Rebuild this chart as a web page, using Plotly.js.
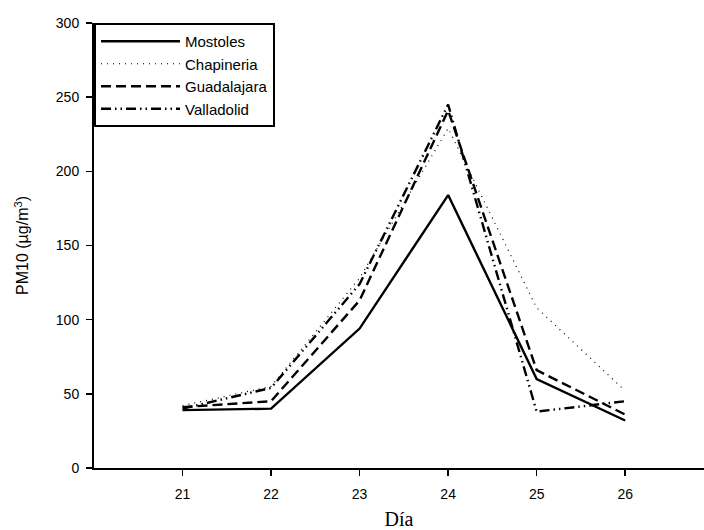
<!DOCTYPE html>
<html>
<head>
<meta charset="utf-8">
<script src="https://cdn.plot.ly/plotly-3.0.1.min.js"></script>
<style>html,body{margin:0;padding:0;background:#fff;}#chart{width:704px;height:530px;}</style>
</head>
<body>
<div id="chart"></div>
<script>
const days = [21, 22, 23, 24, 25, 26];
const mostoles = [39, 40, 94, 184, 60, 32];
const chapineria = [42, 55, 128, 229, 108, 52];
const guadalajara = [41, 45, 113, 241, 66, 36];
const valladolid = [40, 54, 124, 245, 38, 45];
const xTickVals = [21, 22, 23, 24, 25, 26];
const yTickVals = [0, 50, 100, 150, 200, 250, 300];

const traces = [
  {x: days, y: mostoles, name: 'Mostoles', mode: 'lines', line: {color: '#000', width: 2.4, dash: 'solid'}},
  {x: days, y: chapineria, name: 'Chapineria', mode: 'lines', line: {color: '#000', width: 1.2, dash: '1px,5px'}},
  {x: days, y: guadalajara, name: 'Guadalajara', mode: 'lines', line: {color: '#000', width: 2.4, dash: '10px,5px'}},
  {x: days, y: valladolid, name: 'Valladolid', mode: 'lines', line: {color: '#000', width: 2.4, dash: '10px,4px,1.5px,4px,1.5px,4px'}}
];

const layout = {
  width: 704, height: 530,
  margin: {l: 94, r: 0, t: 23, b: 62},
  paper_bgcolor: '#fff', plot_bgcolor: '#fff',
  font: {family: '"Liberation Sans", Arial, sans-serif', color: '#000', size: 14},
  showlegend: true,
  legend: {
    x: 0, y: 1, xanchor: 'left', yanchor: 'top',
    bordercolor: '#000', borderwidth: 2, bgcolor: '#fff',
    font: {size: 15, family: '"Liberation Sans", Arial, sans-serif', color: '#000'},
    itemwidth: 79
  },
  xaxis: {
    range: [20, 26.89],
    tickmode: 'array', tickvals: xTickVals,
    ticks: 'outside', ticklen: 6, tickwidth: 1.5, tickcolor: '#000',
    ticklabelstandoff: 6,
    showline: true, linecolor: '#000', linewidth: 2,
    showgrid: false, zeroline: false,
    tickfont: {size: 14},
    title: {text: 'Día', font: {family: '"Liberation Serif", "Times New Roman", serif', size: 20}, standoff: 12}
  },
  yaxis: {
    range: [0, 300],
    tickmode: 'array', tickvals: yTickVals,
    ticks: 'outside', ticklen: 6, tickwidth: 1.5, tickcolor: '#000',
    ticklabelstandoff: 4,
    showline: true, linecolor: '#000', linewidth: 2,
    showgrid: false, zeroline: false,
    tickfont: {size: 14},
    title: {text: 'PM10 (µg/m<sup>3</sup>)', font: {size: 16}, standoff: 23}
  }
};

Plotly.newPlot('chart', traces, layout, {staticPlot: true, displayModeBar: false});
</script>
</body>
</html>
